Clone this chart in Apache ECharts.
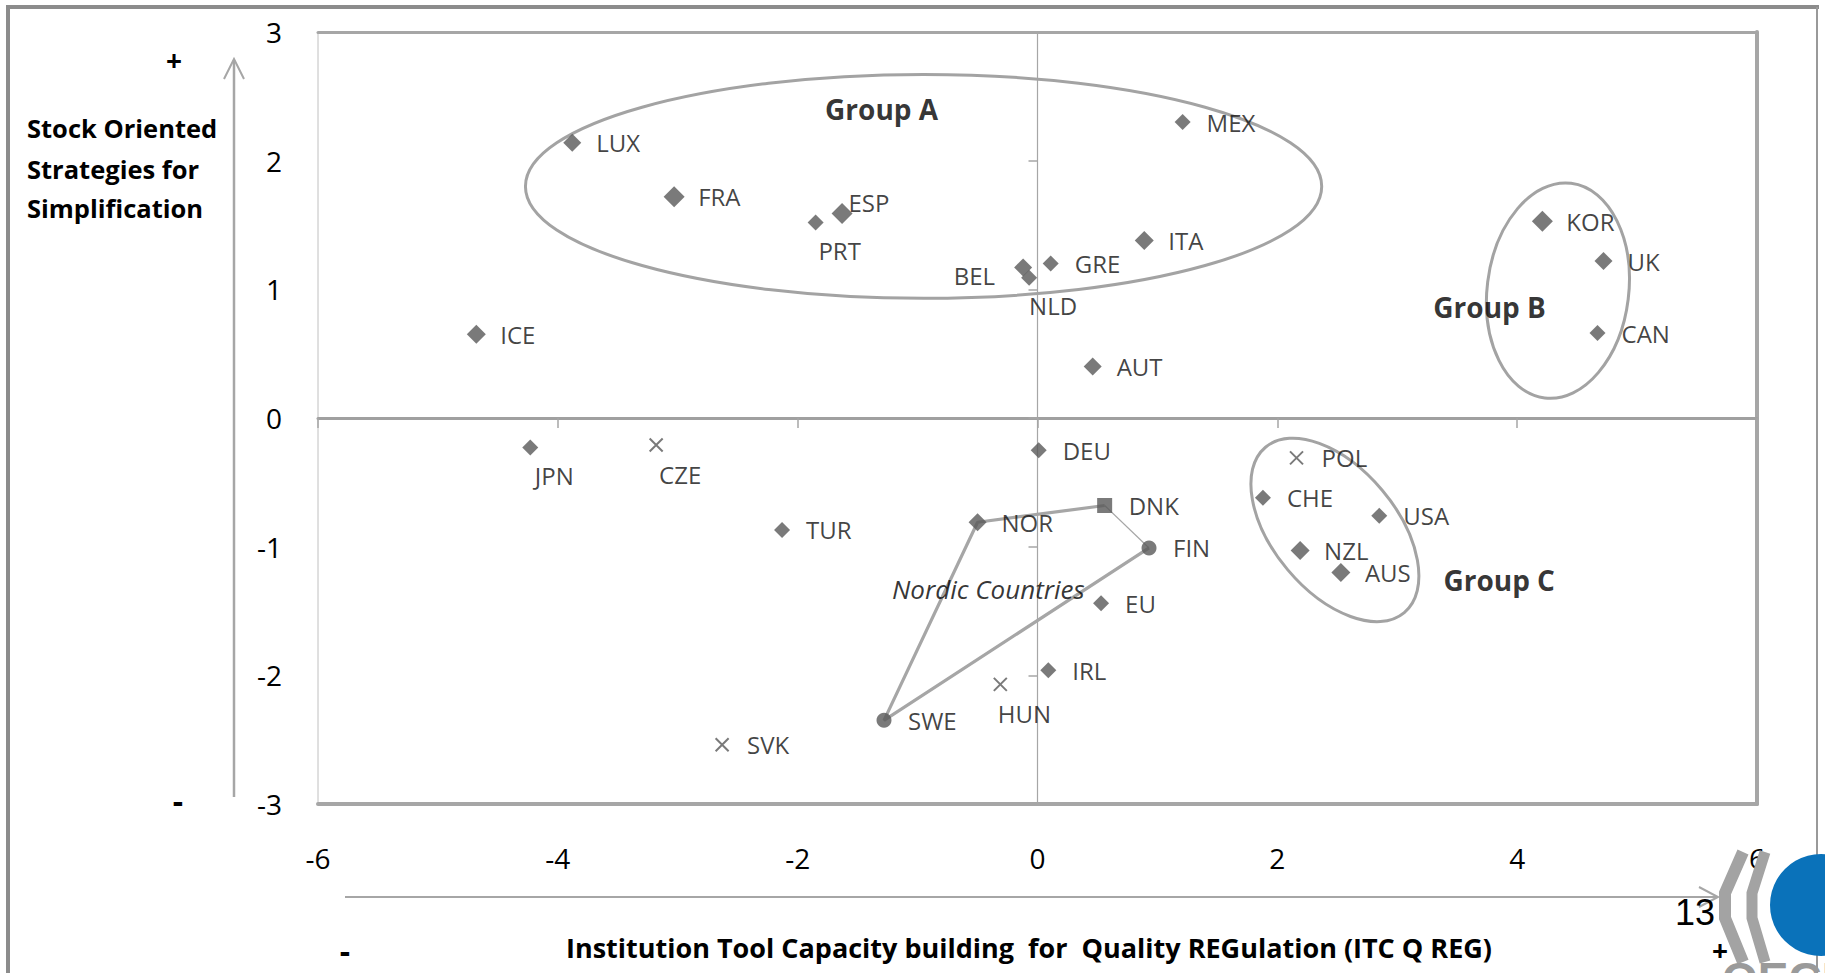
<!DOCTYPE html>
<html>
<head>
<meta charset="utf-8">
<script src="https://cdn.jsdelivr.net/npm/echarts@6/dist/echarts.min.js"></script>
<style>
html,body{margin:0;padding:0;background:#fff;}
#c{width:1825px;height:973px;}
</style>
</head>
<body>
<div id="c"></div>
<script>
// ---------------- data ----------------
const xMin = -6, xMax = 6, xStep = 2;
const yMin = -3, yMax = 3, yStep = 1;

const diamondNames = ['LUX','FRA','ESP','PRT','MEX','ITA','GRE','BEL','NLD','ICE','AUT','KOR','UK','CAN','JPN','DEU','TUR','EU','IRL','CHE','USA','NZL','AUS'];
const diamondX = [-3.88,-3.03,-1.63,-1.85,1.21,0.89,0.11,-0.12,-0.07,-4.68,0.46,4.21,4.72,4.67,-4.23,0.01,-2.13,0.53,0.09,1.88,2.85,2.19,2.53];
const diamondY = [2.14,1.72,1.59,1.52,2.30,1.38,1.20,1.17,1.09,0.65,0.40,1.53,1.22,0.66,-0.23,-0.25,-0.87,-1.44,-1.96,-0.62,-0.76,-1.03,-1.20];

const crossNames = ['CZE','HUN','SVK','POL'];
const crossX = [-3.18,-0.31,-2.63,2.16];
const crossY = [-0.21,-2.07,-2.54,-0.31];

const nordicNames = ['NOR','DNK','FIN','SWE'];
const nordicX = [-0.50,0.56,0.93,-1.28];
const nordicY = [-0.81,-0.68,-1.01,-2.35];

const groupNames = ['Group A','Group B','Group C'];
const groupLabelX = [-1.30,3.77,3.85];
const groupLabelY = [2.40,0.86,-1.26];
const ellipseCX = [-0.95,4.34,2.48];
const ellipseCY = [1.80,0.99,-0.87];
const ellipseRX = [3.32,0.59,0.90];
const ellipseRY = [0.87,0.84,0.48];
const ellipseRot = [0,-7,-50];

const nordicLabel = 'Nordic Countries';
const nordicLabelX = [-0.41];
const nordicLabelY = [-1.33];

const yTitle = ['Stock Oriented','Strategies for','Simplification'];
const xTitle = 'Institution Tool Capacity building  for  Quality REGulation (ITC Q REG)';

// ---------------- styles ----------------
const FONT = '"Open Sans", "Noto Sans", sans-serif';
const MARK = '#595959';
const GRAYLINE = '#a6a6a6';
const bigSize = {FRA:21, ESP:21, KOR:21, ICE:19, ITA:19, NZL:19, AUS:19, LUX:18, UK:18, BEL:18, AUT:18};
const belowSet = ['JPN','CZE','PRT','NLD','HUN'];
const nordicShape = {NOR:'diamond', DNK:'rect', FIN:'circle', SWE:'circle'};
const nordicSize = {NOR:18, DNK:15, FIN:15, SWE:15};

function sizeOf(n, def){ return bigSize[n] || nordicSize[n] || def; }
function labelOf(n, size){
  const base = {show:true, formatter:'{b}', fontFamily:FONT, fontSize:24, color:'#111'};
  if (belowSet.indexOf(n) >= 0) return Object.assign(base, {position:'bottom', distance:16 - size/2, offset:[24,0]});
  if (n === 'BEL') return Object.assign(base, {position:'left', distance:28 - size/2, offset:[0,8]});
  if (n === 'ESP') return Object.assign(base, {position:'right', distance:0, offset:[-4,-11]});
  return Object.assign(base, {position:'right', distance:24 - size/2});
}
function pts(names, xs, ys, def, shapeFn){
  return names.map((n,i) => {
    const s = sizeOf(n, def);
    const o = {name:n, value:[xs[i], ys[i]], symbolSize:s, label:labelOf(n, s)};
    if (shapeFn) o.symbol = shapeFn(n);
    return o;
  });
}

const nordicPt = i => [nordicX[i], nordicY[i]];
const crossPath = 'path://M0,0L10,10M10,0L0,10';

const chart = echarts.init(document.getElementById('c'), null, {renderer:'svg'});

const baseX = {type:'value', min:xMin, max:xMax, interval:xStep, splitLine:{show:false}};
const baseY = {type:'value', min:yMin, max:yMax, interval:yStep, splitLine:{show:false}};

const option = {
  animation:false,
  backgroundColor:'#fff',
  grid:{left:318, right:68, top:32, bottom:169, show:true, borderColor:'#c0c0c0', borderWidth:1, backgroundColor:'#fff'},
  xAxis:[
    Object.assign({}, baseX, {position:'bottom',
      axisLine:{show:true, onZero:false, lineStyle:{color:GRAYLINE, width:4}},
      axisTick:{show:false},
      axisLabel:{show:true, margin:40, fontFamily:FONT, fontSize:28, color:'#000'}}),
    Object.assign({}, baseX, {position:'top',
      axisLine:{show:true, onZero:false, lineStyle:{color:GRAYLINE, width:3}},
      axisTick:{show:false}, axisLabel:{show:false}}),
    Object.assign({}, baseX, {position:'bottom',
      axisLine:{show:true, onZero:true, onZeroAxisIndex:0, lineStyle:{color:'#a0a0a0', width:3}},
      axisTick:{show:true, length:10, lineStyle:{color:GRAYLINE, width:1.5}},
      axisLabel:{show:false}})
  ],
  yAxis:[
    Object.assign({}, baseY, {position:'left',
      axisLine:{show:false, onZero:false},
      axisTick:{show:false},
      axisLabel:{show:true, margin:36, fontFamily:FONT, fontSize:28, color:'#000'}}),
    Object.assign({}, baseY, {position:'right',
      axisLine:{show:true, onZero:false, lineStyle:{color:GRAYLINE, width:4}},
      axisTick:{show:false}, axisLabel:{show:false}}),
    Object.assign({}, baseY, {position:'left',
      axisLine:{show:true, onZero:true, onZeroAxisIndex:0, lineStyle:{color:GRAYLINE, width:1.2}},
      axisTick:{show:true, length:9, lineStyle:{color:GRAYLINE, width:1.5}},
      axisLabel:{show:false}})
  ],
  series:[
    {
      type:'custom', name:'groups-ellipse', coordinateSystem:'cartesian2d', xAxisIndex:0, yAxisIndex:0,
      clip:false, silent:true, z:1,
      data: ellipseCX.map((cx,i) => [cx, ellipseCY[i], ellipseRX[i], ellipseRY[i], ellipseRot[i]]),
      renderItem:function(params, api){
        const c = api.coord([api.value(0), api.value(1)]);
        const s = api.size([api.value(2), api.value(3)]);
        return {
          type:'ellipse', x:c[0], y:c[1], rotation:api.value(4) * Math.PI / 180,
          shape:{cx:0, cy:0, rx:s[0], ry:s[1]},
          style:{fill:'none', stroke:'#a3a3a3', lineWidth:3}
        };
      }
    },
    {
      type:'line', name:'nordic-thick', xAxisIndex:0, yAxisIndex:0, z:2, symbol:'none', silent:true,
      lineStyle:{color:GRAYLINE, width:3.2},
      data:[nordicPt(2), nordicPt(3), nordicPt(0), nordicPt(1)]
    },
    {
      type:'line', name:'nordic-thin', xAxisIndex:0, yAxisIndex:0, z:2, symbol:'none', silent:true,
      lineStyle:{color:GRAYLINE, width:1.2},
      data:[nordicPt(1), nordicPt(2)]
    },
    {
      type:'scatter', name:'countries', xAxisIndex:0, yAxisIndex:0, z:5, symbol:'diamond',
      itemStyle:{color:MARK},
      data: pts(diamondNames, diamondX, diamondY, 16)
    },
    {
      type:'scatter', name:'crosses', xAxisIndex:0, yAxisIndex:0, z:5, symbol:crossPath,
      itemStyle:{color:'rgba(0,0,0,0)', borderColor:MARK, borderWidth:2},
      data: pts(crossNames, crossX, crossY, 13)
    },
    {
      type:'scatter', name:'nordic', xAxisIndex:0, yAxisIndex:0, z:5,
      itemStyle:{color:MARK},
      data: pts(nordicNames, nordicX, nordicY, 15, n => nordicShape[n])
    },
    {
      type:'scatter', name:'group-labels', xAxisIndex:0, yAxisIndex:0, z:6, symbolSize:1,
      itemStyle:{color:'rgba(0,0,0,0)'},
      label:{show:true, position:'inside', formatter:'{b}', fontFamily:FONT, fontSize:28, fontWeight:'bold', color:'#000'},
      data: groupNames.map((n,i) => ({name:n, value:[groupLabelX[i], groupLabelY[i]]}))
    },
    {
      type:'scatter', name:'nordic-label', xAxisIndex:0, yAxisIndex:0, z:6, symbolSize:1,
      itemStyle:{color:'rgba(0,0,0,0)'},
      label:{show:true, position:'inside', formatter:'{b}', fontFamily:FONT, fontSize:26, fontStyle:'italic', color:'#000'},
      data: nordicLabelX.map((x,i) => ({name:nordicLabel, value:[x, nordicLabelY[i]]}))
    }
  ],
  graphic:[
    // slide frame
    {type:'line', z:50, shape:{x1:6, y1:7, x2:1819, y2:7}, style:{stroke:'#8c8c8c', lineWidth:4}},
    {type:'line', z:50, shape:{x1:8, y1:5, x2:8, y2:973}, style:{stroke:'#8c8c8c', lineWidth:4}},
    {type:'line', z:50, shape:{x1:1817, y1:7, x2:1817, y2:973}, style:{stroke:'#999', lineWidth:2}},
    // vertical arrow
    {type:'line', z:50, shape:{x1:234, y1:797, x2:234, y2:60}, style:{stroke:GRAYLINE, lineWidth:2.5}},
    {type:'polyline', z:50, shape:{points:[[224,79],[234,59],[244,79]]}, style:{stroke:GRAYLINE, lineWidth:2, fill:'none'}},
    // horizontal arrow
    {type:'line', z:50, shape:{x1:345, y1:897, x2:1717, y2:897}, style:{stroke:GRAYLINE, lineWidth:2}},
    {type:'polyline', z:50, shape:{points:[[1699,887],[1718,897],[1699,907]]}, style:{stroke:GRAYLINE, lineWidth:2, fill:'none'}},
    // + / - signs
    {type:'text', z:50, x:174, y:60, style:{text:'+', font:'bold 28px ' + FONT, fill:'#000', align:'center', verticalAlign:'middle', textAlign:'center', textVerticalAlign:'middle'}},
    {type:'text', z:50, x:178, y:800, style:{text:'-', font:'bold 32px ' + FONT, fill:'#000', align:'center', verticalAlign:'middle', textAlign:'center', textVerticalAlign:'middle'}},
    {type:'text', z:50, x:345, y:950, style:{text:'-', font:'bold 32px ' + FONT, fill:'#000', align:'center', verticalAlign:'middle', textAlign:'center', textVerticalAlign:'middle'}},
    {type:'text', z:50, x:1720, y:950, style:{text:'+', font:'bold 28px ' + FONT, fill:'#000', align:'center', verticalAlign:'middle', textAlign:'center', textVerticalAlign:'middle'}},
    // y title
    {type:'text', z:50, x:27, y:128, style:{text:yTitle[0], font:'bold 25.5px ' + FONT, fill:'#000', align:'left', verticalAlign:'middle', textAlign:'left', textVerticalAlign:'middle'}},
    {type:'text', z:50, x:27, y:169, style:{text:yTitle[1], font:'bold 25.5px ' + FONT, fill:'#000', align:'left', verticalAlign:'middle', textAlign:'left', textVerticalAlign:'middle'}},
    {type:'text', z:50, x:27, y:208, style:{text:yTitle[2], font:'bold 25.5px ' + FONT, fill:'#000', align:'left', verticalAlign:'middle', textAlign:'left', textVerticalAlign:'middle'}},
    // x title
    {type:'text', z:50, x:1029, y:947, style:{text:xTitle, font:'bold 27px ' + FONT, fill:'#000', align:'center', verticalAlign:'middle', textAlign:'center', textVerticalAlign:'middle'}},
    // slide number
    {type:'text', z:50, x:1715, y:912, style:{text:'13', font:'36px "Liberation Sans", Arial, sans-serif', fill:'#000', align:'right', verticalAlign:'middle', textAlign:'right', textVerticalAlign:'middle'}},
    // logo
    {type:'polyline', z:60, shape:{points:[[1743,852],[1725,893],[1725,918],[1743,962]]}, style:{stroke:'#a3a3a3', lineWidth:12, fill:'none'}},
    {type:'polyline', z:60, shape:{points:[[1765,852],[1752,893],[1752,918],[1765,962]]}, style:{stroke:'#a3a3a3', lineWidth:11, fill:'none'}},
    {type:'circle', z:60, shape:{cx:1821, cy:905, r:51}, style:{fill:'#0a72ba'}},
    {type:'text', z:60, x:1722, y:956, style:{text:'OECD', font:'bold 46px "Liberation Sans", Arial, sans-serif', fill:'#9a9a9a', align:'left', verticalAlign:'top', textAlign:'left', textVerticalAlign:'top'}}
  ]
};
chart.setOption(option);
</script>
</body>
</html>
